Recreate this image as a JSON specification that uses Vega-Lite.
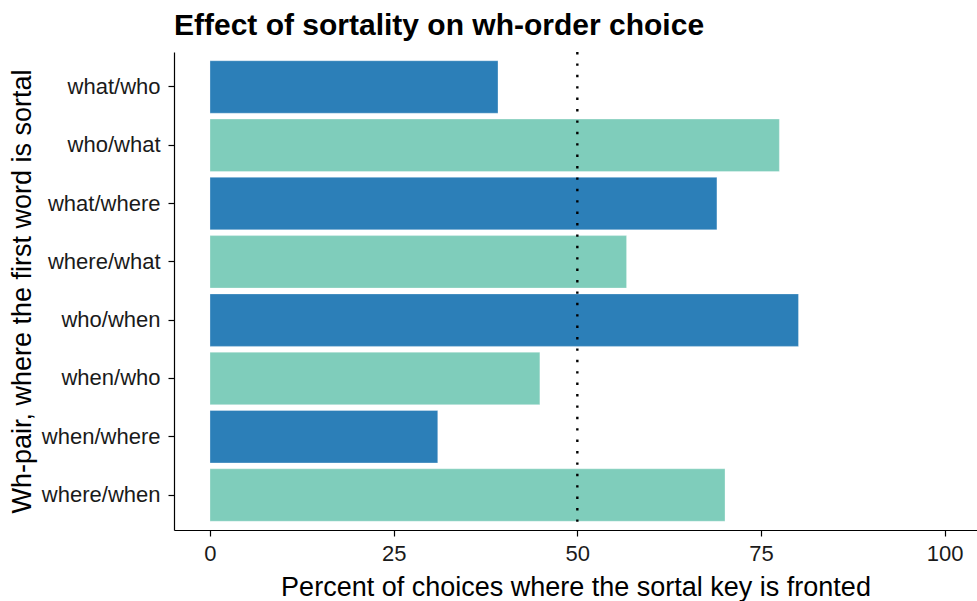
{
  "$schema": "https://vega.github.io/schema/vega-lite/v6.json",
  "autosize": "none",
  "width": 803,
  "height": 478,
  "padding": {"left": 174, "top": 52, "right": 0, "bottom": 71},
  "background": "white",
  "config": {
    "view": {"stroke": null},
    "font": "Liberation Sans",
    "axis": {"grid": false, "domainColor": "black", "tickColor": "black", "labelColor": "#1a1a1a", "titleColor": "black", "titleFontWeight": "normal", "domainWidth": 1.2, "tickWidth": 1.2}
  },
  "title": {"text": "Effect of sortality on wh-order choice", "anchor": "start", "frame": "group", "fontSize": 30, "fontWeight": "bold", "color": "black", "offset": 10, "font": "Liberation Sans"},
  "layer": [
    {
      "data": {"values": [
        {"pair": "what/who", "percent": 39.2, "group": "A"},
        {"pair": "who/what", "percent": 77.5, "group": "B"},
        {"pair": "what/where", "percent": 69.0, "group": "A"},
        {"pair": "where/what", "percent": 56.7, "group": "B"},
        {"pair": "who/when", "percent": 80.1, "group": "A"},
        {"pair": "when/who", "percent": 44.9, "group": "B"},
        {"pair": "when/where", "percent": 31.0, "group": "A"},
        {"pair": "where/when", "percent": 70.1, "group": "B"}
      ]},
      "mark": {"type": "bar", "stroke": "white", "strokeWidth": 0.5, "strokeOpacity": 0.6},
      "encoding": {
        "y": {"field": "pair", "type": "nominal", "sort": null,
              "scale": {"paddingInner": 0.1, "paddingOuter": 0.15},
              "axis": {"title": "Wh-pair, where the first word is sortal", "titleFontSize": 27, "labelFontSize": 22, "tickSize": 6, "labelPadding": 8, "titlePadding": 5}},
        "x": {"field": "percent", "type": "quantitative",
              "scale": {"domain": [-4.9, 104.4], "nice": false, "zero": false},
              "axis": {"values": [0, 25, 50, 75, 100], "title": "Percent of choices where the sortal key is fronted", "titleFontSize": 27, "labelFontSize": 22, "tickSize": 6, "labelPadding": 7, "titlePadding": 10, "labelFlush": false}},
        "color": {"field": "group", "type": "nominal", "scale": {"domain": ["A", "B"], "range": ["#2C7FB8", "#7FCDBB"]}, "legend": null}
      }
    },
    {
      "data": {"values": [{"ref": 50}]},
      "mark": {"type": "rule", "color": "black", "strokeWidth": 2.4, "strokeDash": [2.4, 9]},
      "encoding": {"x": {"field": "ref", "type": "quantitative"}}
    }
  ]
}
